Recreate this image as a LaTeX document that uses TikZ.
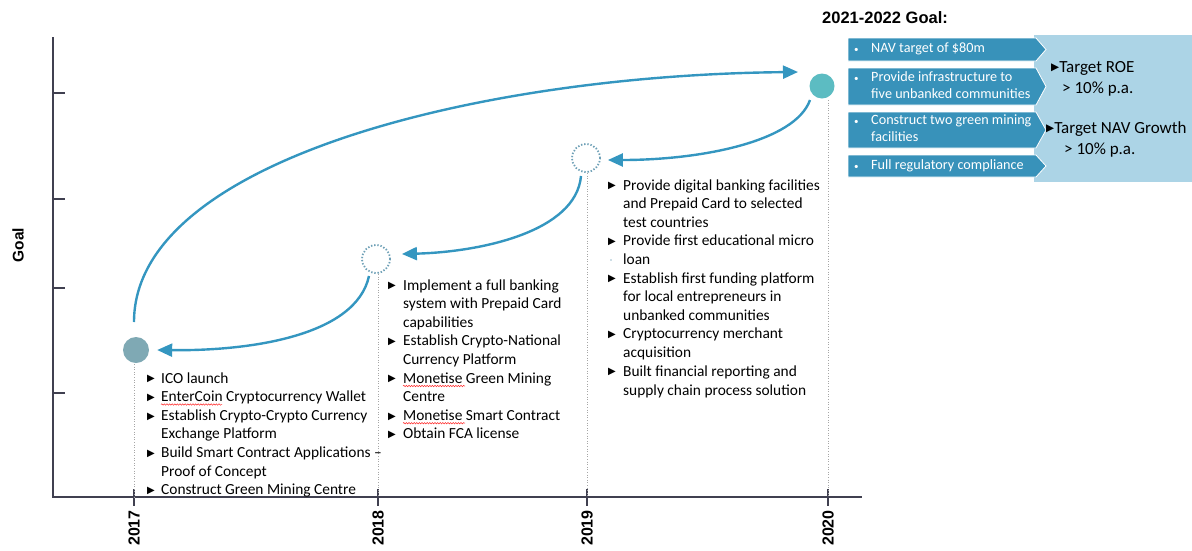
\documentclass[tikz,border=0pt]{standalone}
\usepackage{fontspec}
\setmainfont{Carlito}
\newfontfamily\arialb{Liberation Sans}[BoldFont={Liberation Sans Bold}]
\newfontfamily\symf{DejaVu Sans}
\usetikzlibrary{arrows.meta,decorations.pathmorphing}
\definecolor{arrowblue}{RGB}{52,150,192}
\definecolor{cfirst}{RGB}{127,169,180}
\definecolor{clast}{RGB}{92,188,194}
\definecolor{dotc}{RGB}{110,160,182}
\definecolor{chev}{RGB}{56,146,186}
\definecolor{lightbox}{RGB}{172,212,230}
\definecolor{axisc}{RGB}{64,64,80}
\newcommand{\tri}{\raisebox{1.2pt}{\symf\fontsize{10}{10}\selectfont ▶}}
\newcommand{\bigtri}{\raisebox{1.5pt}{\symf\fontsize{10.5}{10.5}\selectfont ▶}}
\newcommand{\smallbul}{{\fontsize{9}{9}\selectfont •}}
\tikzset{
  axisline/.style={draw=axisc, line width=1.6pt},
  guide/.style={draw=black!35, line width=0.6pt, dotted},
  flow/.style={draw=arrowblue, line width=2.4pt, -{Triangle[length=15pt,width=13pt]}},
  hollow/.style={circle, draw=dotc, line width=1.8pt, dash pattern=on 1.4pt off 1.8pt, minimum size=28pt, inner sep=0pt},
  items/.style={anchor=base west, inner sep=0pt, font=\fontsize{15.4}{18.6}\selectfont, align=left},
  year/.style={rotate=90, anchor=east, inner sep=0pt, font=\arialb\bfseries\fontsize{16}{16}\selectfont},
  chevbox/.style={fill=chev, draw=white, line width=0.8pt},
  chevtext/.style={anchor=west, inner sep=0pt, text=white, font=\fontsize{14.2}{17}\selectfont, align=left},
  roetext/.style={anchor=west, inner sep=0pt, font=\fontsize{17}{19}\selectfont},
  squig/.style={draw=red!85, line width=0.5pt, decorate, decoration={snake, amplitude=0.7pt, segment length=2.6pt}},
}
\begin{document}
\begin{tikzpicture}[x=1pt,y=-1pt]
\useasboundingbox (0,0) rectangle (1192,550);
% axes
\draw[axisline] (53,37) -- (53,497) -- (862,497);
\foreach \yy in {93,199,288,393} \draw[axisline] (53,\yy) -- (65,\yy);
\foreach \xx in {134,378,587,828} \draw[axisline] (\xx,489) -- (\xx,506);
% axis labels
\node[rotate=90, inner sep=0pt, font=\arialb\bfseries\fontsize{15.5}{15.5}\selectfont] (goal) at (18,245) {Goal};
\node[year] (y17) at (134,510) {2017};
\node[year] (y18) at (378,510) {2018};
\node[year] (y19) at (587,510) {2019};
\node[year] (y20) at (828,510) {2020};
% milestones
\node[circle, fill=cfirst, minimum size=26pt, inner sep=0pt] (m17) at (136,350) {};
\node[hollow] (m18) at (376,259) {};
\node[hollow] (m19) at (586,158) {};
\node[circle, fill=clast, minimum size=25pt, inner sep=0pt] (m20) at (822,86) {};
% guides
\coordinate (g17) at (134,497); \coordinate (g18) at (378,497);
\coordinate (g19) at (587,497); \coordinate (g20) at (828,497);
\draw[guide] (134,364) -- (g17);
\draw[guide] (378,274) -- (g18);
\draw[guide] (587,173) -- (g19);
\draw[guide] (828,100) -- (g20);
% connectors
\coordinate (a0) at (134,322);
\coordinate (a1) at (798,72);
\draw[flow] (a0) .. controls (134,160) and (480,75) .. (a1);
\coordinate (b0) at (810,100);
\draw[flow] (b0) .. controls (795,142) and (700,160) .. ([xshift=7pt,yshift=-2pt]m19.east);
\coordinate (c0) at (581,176);
\draw[flow] (c0) .. controls (576,232) and (480,252) .. ([xshift=11pt,yshift=5pt]m18.east);
\coordinate (d0) at (369,276);
\draw[flow] (d0) .. controls (356,336) and (250,351) .. ([xshift=8pt]m17.east);
% 2017 items
\node[items] (t17) at (147,383) {\begin{tabular}[t]{@{}p{14pt}@{}l@{}}
\tri & ICO launch\\
\tri & EnterCoin Cryptocurrency Wallet\\
\tri & Establish Crypto-Crypto Currency\\
 & Exchange Platform\\
\tri & Build Smart Contract Applications –\\
 & Proof of Concept\\
\tri & Construct Green Mining Centre
\end{tabular}};
\draw[squig] (161,404.5) -- (222,404.5);
% 2018 items
\node[items] (t18) at (388,290) {\begin{tabular}[t]{@{}p{15pt}@{}l@{}}
\tri & Implement a full banking\\
 & system with Prepaid Card\\
 & capabilities\\
\tri & Establish Crypto-National\\
 & Currency Platform\\
\tri & Monetise Green Mining\\
 & Centre\\
\tri & Monetise Smart Contract\\
\tri & Obtain FCA license
\end{tabular}};
\draw[squig] (403,386) -- (465,386);
\draw[squig] (403,423.2) -- (465,423.2);
% 2019 items
\node[items] (t19) at (608,190) {\begin{tabular}[t]{@{}p{15pt}@{}l@{}}
\tri & Provide digital banking facilities\\
 & and Prepaid Card to selected\\
 & test countries\\
\tri & Provide first educational micro\\
 & loan\\
\tri & Establish first funding platform\\
 & for local entrepreneurs in\\
 & unbanked communities\\
\tri & Cryptocurrency merchant\\
 & acquisition\\
\tri & Built financial reporting and\\[0.4pt]
 & supply chain process solution
\end{tabular}};
\fill[dotc!70] (611,260) circle (0.9);
% 2021-2022 goal
\node[anchor=west, inner sep=0pt, font=\arialb\bfseries\fontsize{16.5}{16.5}\selectfont] (gt) at (822,18) {2021-2022 Goal:};
\fill[lightbox] (1034,35) rectangle (1192,182);
\path[chevbox] (848,38) -- (1036,38) -- (1046,49.5) -- (1036,61) -- (848,61) -- cycle;
\path[chevbox] (848,68) -- (1036,68) -- (1046,86.5) -- (1036,105) -- (848,105) -- cycle;
\path[chevbox] (848,112) -- (1036,112) -- (1046,130) -- (1036,148) -- (848,148) -- cycle;
\path[chevbox] (848,155) -- (1036,155) -- (1046,166) -- (1036,177) -- (848,177) -- cycle;
\node[chevtext] (c1) at (854,49.5) {\begin{tabular}{@{}p{17pt}@{}l@{}}\smallbul & NAV target of \$80m\end{tabular}};
\node[chevtext] (c2) at (854,86.5) {\begin{tabular}{@{}p{17pt}@{}l@{}}\smallbul & Provide infrastructure to\\ & five unbanked communities\end{tabular}};
\node[chevtext] (c3) at (854,130) {\begin{tabular}{@{}p{17pt}@{}l@{}}\smallbul & Construct two green mining\\ & facilities\end{tabular}};
\node[chevtext] (c4) at (854,166) {\begin{tabular}{@{}p{17pt}@{}l@{}}\smallbul & Full regulatory compliance\end{tabular}};
\node[roetext] (r1) at (1051,68) {\bigtri Target ROE};
\node[roetext] (r2) at (1062,89) {> 10\% p.a.};
\node[roetext] (r3) at (1046,129) {\bigtri Target NAV Growth};
\node[roetext] (r4) at (1064,150) {> 10\% p.a.};
\end{tikzpicture}
\end{document}
